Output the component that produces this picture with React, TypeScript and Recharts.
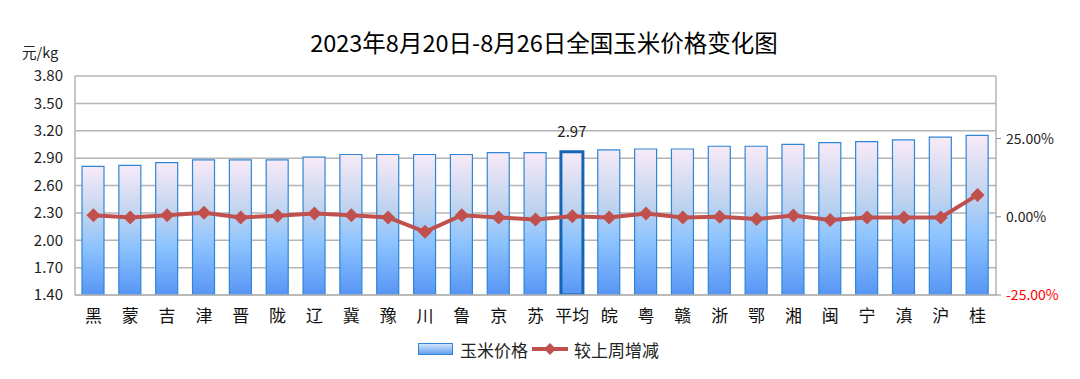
import React from "react";
import { ComposedChart, Bar, Line, XAxis, YAxis, CartesianGrid, Cell } from "recharts";

const provinces = ["黑", "蒙", "吉", "津", "晋", "陇", "辽", "冀", "豫", "川", "鲁", "京", "苏", "平均", "皖", "粤", "赣", "浙", "鄂", "湘", "闽", "宁", "滇", "沪", "桂"];
const prices = [2.81, 2.82, 2.85, 2.88, 2.88, 2.88, 2.91, 2.94, 2.94, 2.94, 2.94, 2.96, 2.96, 2.97, 2.99, 3.0, 3.0, 3.03, 3.03, 3.05, 3.07, 3.08, 3.1, 3.13, 3.15];
const weeklyChange = [0.5, -0.2, 0.5, 1.3, -0.2, 0.3, 1.05, 0.5, -0.2, -4.8, 0.5, -0.2, -0.85, 0.2, -0.2, 1.05, -0.2, 0, -0.7, 0.4, -1.0, -0.2, -0.2, -0.2, 7.0];
const priceTicks = [1.4, 1.7, 2.0, 2.3, 2.6, 2.9, 3.2, 3.5, 3.8];
const changeTicks = [-25, 0, 25];

const data = provinces.map((name, i) => ({ name, price: prices[i], change: weeklyChange[i] }));
const avgIndex = provinces.indexOf("平均");

const FONT = "'Noto Sans CJK SC', 'Noto Sans', sans-serif";
const LINE = "#c0504d";
const BORDER = "#2f86d6";

function Diamond(props: any) {
  const { cx, cy } = props;
  if (cx == null || cy == null) return null;
  const r = 7;
  return <path d={`M${cx},${cy - r}L${cx + r},${cy}L${cx},${cy + r}L${cx - r},${cy}Z`} fill={LINE} />;
}

function RightTick(props: any) {
  const { x, y, payload } = props;
  const v = payload.value as number;
  return (
    <text x={x} y={y} dy={5} textAnchor="start" fontSize={14} fontFamily={FONT} fill={v < 0 ? "#ff0000" : "#222"}>
      {v.toFixed(2)}%
    </text>
  );
}

function AvgLabel(props: any) {
  const { x, y, width, index, value } = props;
  if (index !== avgIndex) return null;
  return (
    <text x={x + width / 2} y={y - 15} textAnchor="middle" fontSize={15} fontFamily={FONT} fill="#222">
      {Number(value).toFixed(2)}
    </text>
  );
}

export default function App() {
  return (
    <div style={{ position: "relative", width: 1080, height: 379, margin: -8, background: "#fff", fontFamily: FONT, overflow: "hidden" }}>
      <div style={{ position: "absolute", left: 2, top: 1, width: 1075, height: 374, border: "1px solid #a6a6a6" }} />
      <div style={{ position: "absolute", left: 4, width: 1080, top: 26, textAlign: "center", fontSize: 23.5, color: "#000", lineHeight: "32px" }}>
        2023年8月20日-8月26日全国玉米价格变化图
      </div>
      <div style={{ position: "absolute", left: 22, top: 43, fontSize: 14.5, color: "#222", lineHeight: "18px" }}>元/kg</div>

      <ComposedChart width={1080} height={379} data={data} margin={{ top: 76, right: 14, left: 15, bottom: 54 }} style={{ position: "absolute", left: 0, top: 0 }}>
        <defs>
          <linearGradient id="barFill" x1="0" y1="0" x2="0" y2="1">
            <stop offset="0%" stopColor="#f8eaf8" />
            <stop offset="40%" stopColor="#bcd2ee" />
            <stop offset="62%" stopColor="#8ec4ff" />
            <stop offset="100%" stopColor="#5795f4" />
          </linearGradient>
        </defs>
        <CartesianGrid yAxisId="l" vertical={false} stroke="#b4b4b4" strokeWidth={1.5} />
        <XAxis
          dataKey="name"
          height={30}
          axisLine={{ stroke: "#b4b4b4", strokeWidth: 1.5 }}
          tickLine={false}
          tickMargin={9}
          interval={0}
          tick={{ fontSize: 17, fill: "#111", fontFamily: FONT }}
        />
        <YAxis
          yAxisId="l"
          width={60}
          domain={[1.4, 3.8]}
          ticks={priceTicks}
          allowDataOverflow
          tickFormatter={(v: number) => v.toFixed(2)}
          axisLine={{ stroke: "#b4b4b4", strokeWidth: 1.5 }}
          tickLine={false}
          tickSize={0}
          tickMargin={12}
          tick={{ fontSize: 15, fill: "#222", fontFamily: FONT }}
        />
        <YAxis
          yAxisId="r"
          orientation="right"
          width={70}
          domain={[-25, 45]}
          ticks={changeTicks}
          allowDataOverflow
          axisLine={{ stroke: "#b4b4b4", strokeWidth: 1.5 }}
          tickLine={{ stroke: "#8c8c8c" }}
          tickSize={5}
          tickMargin={5}
          tick={<RightTick />}
        />
        <Bar yAxisId="l" dataKey="price" barSize={22} fill="url(#barFill)" isAnimationActive={false} label={<AvgLabel />}>
          {data.map((d, i) => (
            <Cell key={d.name} stroke={i === avgIndex ? "#1565b5" : BORDER} strokeWidth={i === avgIndex ? 3 : 1.2} />
          ))}
        </Bar>
        <Line yAxisId="r" dataKey="change" stroke={LINE} strokeWidth={4} dot={<Diamond />} activeDot={false} isAnimationActive={false} />
      </ComposedChart>

      <div style={{ position: "absolute", left: 418, top: 338, height: 22, display: "flex", alignItems: "center", fontSize: 17, color: "#222" }}>
        <svg width={36} height={12} style={{ marginRight: 6 }}>
          <rect x={0.5} y={0.5} width={34} height={11} fill="url(#legendFill)" stroke={BORDER} />
          <defs>
            <linearGradient id="legendFill" x1="0" y1="0" x2="0" y2="1">
              <stop offset="0%" stopColor="#d8e8fb" />
              <stop offset="100%" stopColor="#5f9cf2" />
            </linearGradient>
          </defs>
        </svg>
        <span>玉米价格</span>
        <svg width={36} height={16} style={{ margin: "0 6px 0 4px" }}>
          <line x1={0} y1={8} x2={36} y2={8} stroke={LINE} strokeWidth={4} />
          <path d="M18,2L24,8L18,14L12,8Z" fill={LINE} />
        </svg>
        <span>较上周增减</span>
      </div>
    </div>
  );
}
